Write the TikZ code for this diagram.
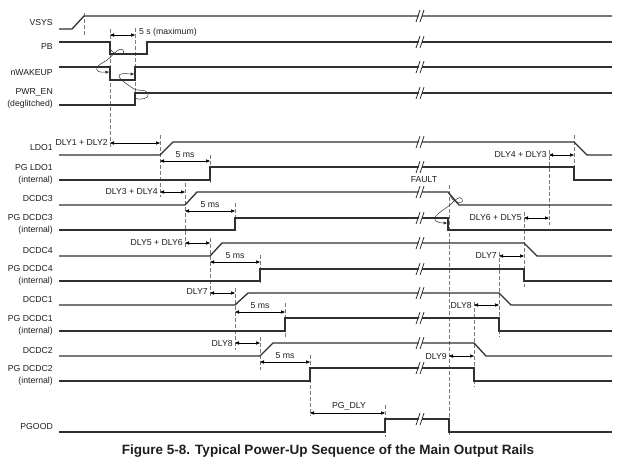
\documentclass[tikz,border=0pt]{standalone}
\usepackage{fontspec}
\setmainfont{Liberation Sans}
\usepackage{tikz}
\usetikzlibrary{arrows.meta}
\definecolor{wave}{HTML}{303030}
\definecolor{guide}{HTML}{7A7A7A}
\definecolor{txt}{HTML}{1E1E1E}

\begin{document}
\begin{tikzpicture}[x=1pt,y=-1pt,
  sig/.style={draw=wave,line width=1.3pt},
  gd/.style={draw=guide,line width=0.7pt,dash pattern=on 3.5pt off 2.5pt},
  meas/.style={draw=black,line width=0.5pt,
               {Triangle[length=4pt,width=3.2pt]}-{Triangle[length=4pt,width=3.2pt]}},
  cause/.style={draw=wave,line width=0.5pt,-{Triangle[length=3.5pt,width=3pt]}},
  lbl/.style={font=\fontsize{8.7}{12}\selectfont,text=txt,anchor=east,
              inner sep=0pt,align=right},
  val/.style={font=\fontsize{8.7}{10}\selectfont,text=txt,inner sep=0pt}]
\useasboundingbox (0,0) rectangle (635,464);

% guides
\draw[gd] (84,13) -- (84,36);
\draw[gd] (110,29) -- (110,149);
\draw[gd] (135,28) -- (135,105);
\draw[gd] (160,135) -- (160,197);
\draw[gd] (210,155) -- (210,185);
\draw[gd] (185,183) -- (185,247);
\draw[gd] (235,203) -- (235,232);
\draw[gd] (210,238) -- (210,297);
\draw[gd] (260,255) -- (260,283);
\draw[gd] (235,288) -- (235,350);
\draw[gd] (285,303) -- (285,338);
\draw[gd] (260,337) -- (260,370);
\draw[gd] (310,355) -- (310,416);
\draw[gd] (385,405) -- (385,437);
\draw[gd] (574,135) -- (574,167);
\draw[gd] (549,150) -- (549,225);
\draw[gd] (524,212) -- (524,287);
\draw[gd] (499,252) -- (499,337);
\draw[gd] (474,302) -- (474,387);
\draw[gd] (449,185) -- (449,437);

% signal names
\node[lbl] (vsys) at (53,23) {VSYS};
\node[lbl] (pb) at (53,47) {PB};
\node[lbl] (nwk) at (53,73) {nWAKEUP};
\node[lbl] (pwr) at (53,98) {PWR\_EN\\(deglitched)};
\node[lbl] (ldo) at (53,148) {LDO1};
\node[lbl] (pgldo) at (53,174) {PG LDO1\\(internal)};
\node[lbl] (dc3) at (53,199) {DCDC3};
\node[lbl] (pg3) at (53,224) {PG DCDC3\\(internal)};
\node[lbl] (dc4) at (53,250) {DCDC4};
\node[lbl] (pg4) at (53,275) {PG DCDC4\\(internal)};
\node[lbl] (dc1) at (53,299) {DCDC1};
\node[lbl] (pg1) at (53,325) {PG DCDC1\\(internal)};
\node[lbl] (dc2) at (53,350) {DCDC2};
\node[lbl] (pg2) at (53,375) {PG DCDC2\\(internal)};
\node[lbl] (pgood) at (53,426) {PGOOD};

% waveforms
\draw[sig] (59,29) -- (72,29) -- (84,16) -- (612,16);
\draw[sig] (59,42) -- (110,42) -- (110,54) -- (147,54) -- (147,42) -- (612,42);
\draw[sig] (59,67) -- (110,67) -- (110,80) -- (135,80) -- (135,67) -- (612,67);
\draw[sig] (59,105) -- (135,105) -- (135,93) -- (612,93);
\draw[sig] (59,155) -- (160,155) -- (173,142) -- (574,142) -- (587,155) -- (612,155);
\draw[sig] (59,180) -- (210,180) -- (210,167) -- (574,167) -- (574,180) -- (612,180);
\draw[sig] (59,205) -- (185,205) -- (197,192) -- (448,192) -- (459,205) -- (612,205);
\draw[sig] (59,230) -- (235,230) -- (235,218) -- (448,218) -- (448,230) -- (612,230);
\draw[sig] (59,256) -- (210,256) -- (222,243) -- (524,243) -- (537,256) -- (612,256);
\draw[sig] (59,281) -- (260,281) -- (260,269) -- (524,269) -- (524,281) -- (612,281);
\draw[sig] (59,305) -- (235,305) -- (248,293) -- (499,293) -- (511,305) -- (612,305);
\draw[sig] (59,331) -- (285,331) -- (285,318) -- (499,318) -- (499,331) -- (612,331);
\draw[sig] (59,356) -- (260,356) -- (273,343) -- (474,343) -- (486,356) -- (612,356);
\draw[sig] (59,381) -- (310,381) -- (310,368) -- (474,368) -- (474,381) -- (612,381);
\draw[sig] (59,432) -- (385,432) -- (385,419) -- (449,419) -- (449,432) -- (612,432);

% time breaks
\foreach \y in {16,42,67,93,142,167,192,218,243,269,293,318,343,368,419}{
  \fill[white] (417,\y+6) -- (421,\y-6) -- (424,\y-6) -- (420,\y+6) -- cycle;
  \draw[wave,line width=0.8pt] (416,\y+6) -- (420,\y-6) (420,\y+6) -- (424,\y-6);
}

% causes
\draw[cause] (110,48) .. controls (113,57) and (127,55) .. (123,50)
  .. controls (118,46) and (112,58) .. (104,62)
  .. controls (94,67) and (94,73) .. (109,72);
\draw[cause] (135,98) .. controls (140,101) and (151,98) .. (148,93)
  .. controls (145,88) and (138,93) .. (131,87)
  .. controls (124,82) and (115,76) .. (121,74)
  .. controls (124,73) and (128,74) .. (134,74);
\draw[cause] (450,195) .. controls (452,203) and (465,205) .. (462,199)
  .. controls (460,195) and (455,200) .. (450,205)
  .. controls (442,211) and (431,217) .. (436,221)
  .. controls (439,223) and (443,223) .. (447,223);
\node[val] (fault) at (424,180) {FAULT};

% delays
\draw[meas] (110,35) -- (135,35);
\node[val,anchor=west] (pbmax) at (139,32) {5 s (maximum)};
\draw[meas] (110,143) -- (160,143);
\node[val,anchor=east] (d12) at (108,142) {DLY1 + DLY2};
\draw[meas] (160,161) -- (210,161);
\node[val] (ms1) at (185,155) {5 ms};
\draw[meas] (160,192) -- (185,192);
\node[val,anchor=east] (d34) at (158,191) {DLY3 + DLY4};
\draw[meas] (185,211) -- (235,211);
\node[val] (ms2) at (210,205) {5 ms};
\draw[meas] (185,243) -- (210,243);
\node[val,anchor=east] (d56) at (183,242) {DLY5 + DLY6};
\draw[meas] (210,262) -- (260,262);
\node[val] (ms3) at (235,256) {5 ms};
\draw[meas] (210,293) -- (235,293);
\node[val,anchor=east] (d7) at (208,292) {DLY7};
\draw[meas] (235,312) -- (285,312);
\node[val] (ms4) at (260,306) {5 ms};
\draw[meas] (235,343) -- (260,343);
\node[val,anchor=east] (d8) at (233,343) {DLY8};
\draw[meas] (260,362) -- (310,362);
\node[val] (ms5) at (285,356) {5 ms};
\draw[meas] (310,413) -- (385,413);
\node[val] (pgd) at (349,406) {PG\_DLY};

\draw[meas] (549,155) -- (574,155);
\node[val,anchor=east] (d43) at (547,155) {DLY4 + DLY3};
\draw[meas] (524,218) -- (549,218);
\node[val,anchor=east] (d65) at (522,218) {DLY6 + DLY5};
\draw[meas] (499,256) -- (524,256);
\node[val,anchor=east] (e7) at (497,256) {DLY7};
\draw[meas] (474,305) -- (499,305);
\node[val,anchor=east] (e8) at (472,305) {DLY8};
\draw[meas] (449,356) -- (474,356);
\node[val,anchor=east] (e9) at (447,356) {DLY9};

\node[font=\bfseries\fontsize{13.5}{15}\selectfont,text=txt,inner sep=0pt]
  (cap) at (328,451) {Figure 5-8. Typical Power-Up Sequence of the Main Output Rails};
\end{tikzpicture}
\end{document}
